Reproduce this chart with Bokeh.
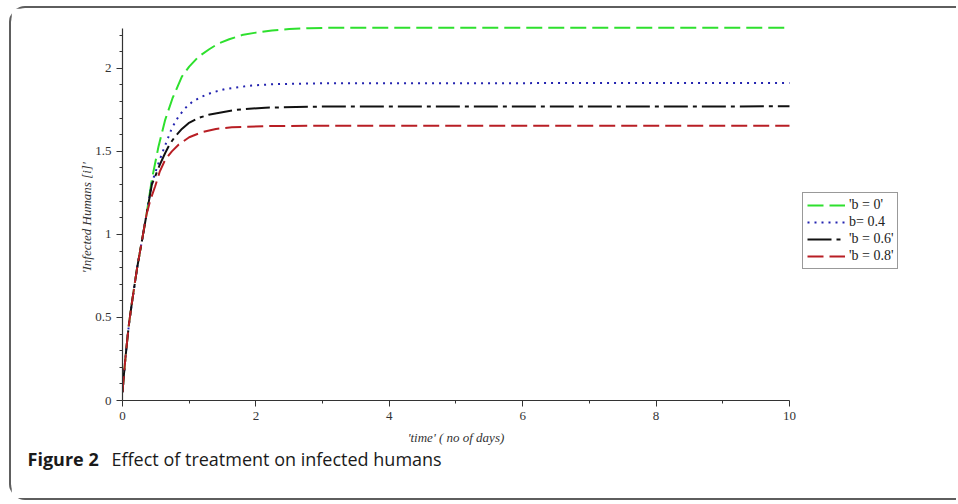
from bokeh.plotting import figure
from bokeh.models import FixedTicker, Legend, LegendItem, Label, Range1d
from bokeh.embed import file_html
from bokeh.resources import INLINE

# ---- data ----
t_early = [0, 0.02, 0.045, 0.07, 0.1, 0.145, 0.22, 0.295, 0.36]
i_early = [0.05, 0.15, 0.26, 0.36, 0.47, 0.60, 0.80, 0.97, 1.12]

t_b0 = [0.44, 0.54, 0.64, 0.75, 0.89, 1.0, 1.14, 1.3, 1.44, 1.6, 1.79, 2.0, 2.24, 2.5, 2.8, 3.2, 4, 10]
i_b0 = [1.33, 1.53, 1.69, 1.82, 1.95, 2.01, 2.07, 2.115, 2.15, 2.175, 2.20, 2.215, 2.228, 2.237, 2.242, 2.245, 2.245, 2.245]

t_b04 = [0.44, 0.54, 0.615, 0.74, 0.84, 0.94, 1.05, 1.19, 1.35, 1.54, 1.94, 2.29, 3, 10]
i_b04 = [1.31, 1.43, 1.51, 1.64, 1.71, 1.76, 1.80, 1.83, 1.855, 1.875, 1.897, 1.905, 1.91, 1.912]

t_b06 = [0.44, 0.49, 0.56, 0.64, 0.71, 0.79, 0.89, 0.99, 1.13, 1.29, 1.69, 2.14, 3, 10]
i_b06 = [1.30, 1.35, 1.42, 1.49, 1.545, 1.59, 1.635, 1.67, 1.70, 1.72, 1.75, 1.763, 1.77, 1.771]

t_b08 = [0.42, 0.49, 0.56, 0.64, 0.74, 0.84, 1.0, 1.19, 1.4, 1.64, 2.19, 3, 10]
i_b08 = [1.21, 1.29, 1.38, 1.45, 1.50, 1.54, 1.585, 1.615, 1.635, 1.645, 1.652, 1.655, 1.655]

series_labels = ["'b = 0'", "b= 0.4", "'b = 0.6'", "'b = 0.8'"]

x_ticks = [0, 2, 4, 6, 8, 10]
x_minor = [1, 3, 5, 7, 9]
y_ticks = [0, 0.5, 1, 1.5, 2]
y_tick_labels = ["0", "0.5", "1", "1.5", "2"]
y_minor = [0.1, 0.2, 0.3, 0.4, 0.6, 0.7, 0.8, 0.9, 1.1, 1.2, 1.3, 1.4,
           1.6, 1.7, 1.8, 1.9, 2.1, 2.2]

x_label = "'time' ( no of days)"
y_label = "'Infected Humans [i]'"
caption_bold = "Figure 2"
caption_text = "Effect of treatment on infected humans"

# ---- figure ----
p = figure(width=945, height=490, x_range=Range1d(0, 12.384), y_range=Range1d(0, 2.3),
           output_backend="svg", toolbar_location=None,
           min_border_left=111, min_border_right=8, min_border_top=10, min_border_bottom=98)
p.xgrid.visible = False
p.ygrid.visible = False
p.outline_line_color = None
p.background_fill_color = "white"
p.border_fill_color = "white"
# frame open on the right: left, top and bottom edges only
p.styles = {"margin-left": "11px", "margin-top": "8px",
            "border-radius": "14px 0px 0px 14px",
            "box-shadow": "-2px 0px 0px 0px #5e5e5e, 0px -2px 0px 0px #5e5e5e, 0px 2px 0px 0px #5e5e5e"}

for ax in (p.xaxis[0], p.yaxis[0]):
    ax.axis_line_color = "#333333"
    ax.axis_line_width = 1.2
    ax.major_tick_line_color = "#333333"
    ax.minor_tick_line_color = "#333333"
    ax.major_tick_out = 6
    ax.major_tick_in = 0
    ax.minor_tick_out = 3
    ax.minor_tick_in = 0
    ax.major_label_text_font = "Liberation Serif"
    ax.major_label_text_font_size = "13px"
    ax.major_label_text_color = "#333333"

p.xaxis.ticker = FixedTicker(ticks=x_ticks, minor_ticks=x_minor)
p.xaxis.bounds = (0, 10)
p.yaxis.ticker = FixedTicker(ticks=y_ticks, minor_ticks=y_minor)
p.yaxis.bounds = (0, 2.24)
p.yaxis.major_label_overrides = {k: v for k, v in zip(y_ticks, y_tick_labels)}

r0 = p.line(t_early + t_b0, i_early + i_b0, line_color="#2ee02e", line_width=2, line_dash="16 6")
r1 = p.line(t_early + t_b04, i_early + i_b04, line_color="#2424b0", line_width=2, line_dash="2 5")
r2 = p.line(t_early + t_b06, i_early + i_b06, line_color="#111111", line_width=2, line_dash="24 5 4 5")
r3 = p.line(t_early + t_b08, i_early + i_b08, line_color="#b81e24", line_width=2, line_dash="16 6")

legend = Legend(items=[LegendItem(label=series_labels[0], renderers=[r0]),
                       LegendItem(label=series_labels[1], renderers=[r1]),
                       LegendItem(label=series_labels[2], renderers=[r2]),
                       LegendItem(label=series_labels[3], renderers=[r3])],
                location=(680, 131))
legend.border_line_color = "#333333"
legend.border_line_width = 1
legend.background_fill_color = "white"
legend.background_fill_alpha = 1
legend.padding = 4
legend.spacing = 1
legend.glyph_width = 38
legend.glyph_height = 16
legend.label_height = 16
legend.label_standoff = 4
legend.label_text_font = "Liberation Serif"
legend.label_text_font_size = "14px"
legend.label_text_color = "#222222"
legend.label_text_baseline = "middle"
p.add_layout(legend)

# axis titles, centred on the drawn axes
p.add_layout(Label(x=5, y=-0.223, text=x_label, text_font="Liberation Serif",
                   text_font_style="italic", text_font_size="13px", text_color="#333333",
                   text_align="center", text_baseline="middle"), "below")
p.add_layout(Label(x=-0.54, y=1.10, text=y_label, text_font="Liberation Serif",
                   text_font_style="italic", text_font_size="13px", text_color="#333333",
                   text_align="center", text_baseline="middle", angle=1.5708), "left")

# caption
p.add_layout(Label(x=-1.424, y=-0.355, text=caption_bold,
                   text_font="Open Sans", text_font_style="bold", text_font_size="18px",
                   text_color="#1a1a1a", text_baseline="middle"), "below")
p.add_layout(Label(x=-0.165, y=-0.355, text=caption_text,
                   text_font="Open Sans", text_font_size="18px",
                   text_color="#1a1a1a", text_baseline="middle"), "below")

open("out.html", "w").write(file_html(p, INLINE))
